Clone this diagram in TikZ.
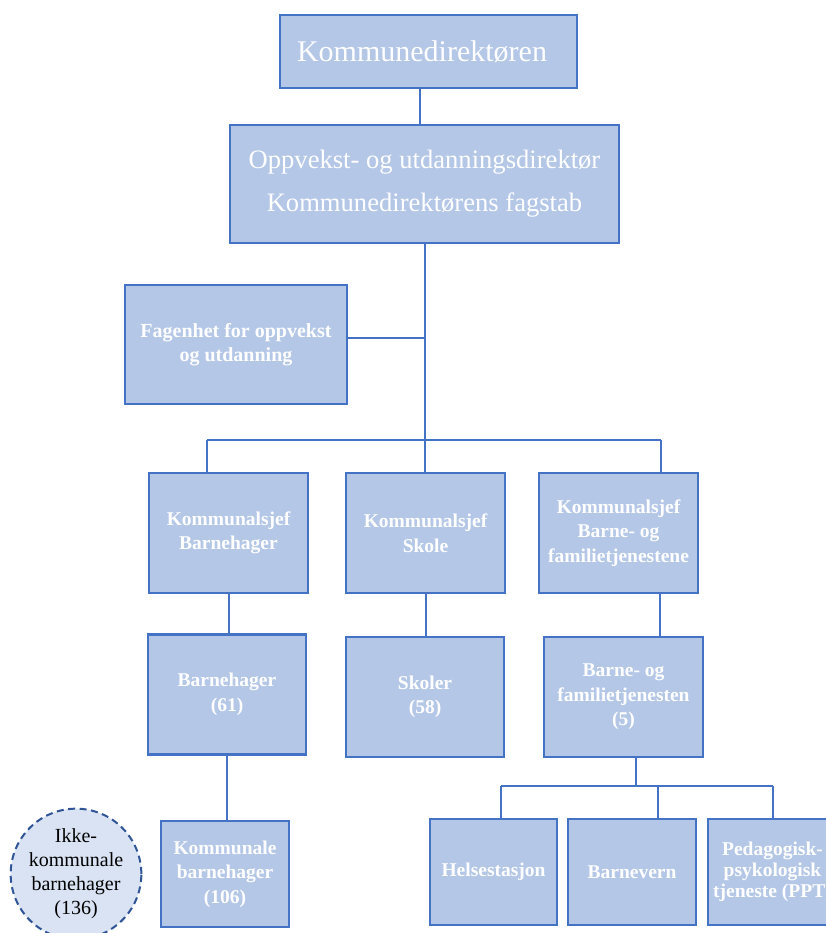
\documentclass[tikz,border=0pt]{standalone}
\usepackage{fontspec}
\setmainfont{Liberation Serif}
\usetikzlibrary{positioning, calc}

\definecolor{boxfill}{HTML}{B4C7E7}
\definecolor{boxline}{HTML}{4472C4}
\definecolor{ringfill}{HTML}{DAE3F3}
\definecolor{ringline}{HTML}{2F5597}

\begin{document}
\begin{tikzpicture}[
            x=1pt, y=-1pt,
            unit/.style={draw=boxline, fill=boxfill, line width=2.2pt, inner sep=0pt,
                text=white, align=center, font=\bfseries\fontsize{19.5}{24.5}\selectfont},
            link/.style={draw=boxline, line width=2pt},
            other/.style={draw=ringline, fill=ringfill, dash pattern=on 7pt off 4.5pt,
                line width=2pt, circle, inner sep=0pt, minimum size=128pt, align=center,
                font=\fontsize{20}{24}\selectfont}
        ]
            \useasboundingbox (0,0) rectangle (826,933);
            \clip (0,0) rectangle (826,933);
            % Management
            \node[unit, minimum width=297pt, minimum height=73pt,
                font=\fontsize{30}{32}\selectfont] (top) at (428.5,51.5)
                {Kommunedirektøren\hspace*{13pt}};
            \node[unit, minimum width=389pt, minimum height=118pt,
                font=\fontsize{26.6}{43}\selectfont] (dir) at (424.5,184)
                {Oppvekst- og utdanningsdirektør\\Kommunedirektørens fagstab};
            \node[unit, minimum width=222pt, minimum height=119pt,
                font=\bfseries\fontsize{20}{24}\selectfont] (fag) at (236,344.5)
                {Fagenhet for oppvekst\\og utdanning};
            % Kommunalsjefer
            \node[unit, minimum width=159pt, minimum height=120pt] (ksB) at (228.5,533)
                {Kommunalsjef\\Barnehager};
            \node[unit, minimum width=159pt, minimum height=120pt] (ksS) at (425.5,533)
                {Kommunalsjef\\Skole};
            \node[unit, minimum width=159pt, minimum height=120pt] (ksF) at (618.5,533)
                {Kommunalsjef\\Barne- og\\familietjenestene};
            % Units
            \node[unit, minimum width=158pt, minimum height=120pt] (bh) at (227,694.5)
                {Barnehager\\(61)};
            \node[unit, minimum width=158pt, minimum height=120pt] (sk) at (425,697)
                {Skoler\\(58)};
            \node[unit, minimum width=159pt, minimum height=120pt] (bft) at (623.5,697)
                {Barne- og\\familietjenesten\\(5)};
            % Bottom row
            \node[unit, minimum width=128pt, minimum height=106pt] (kb) at (225,874)
                {Kommunale\\barnehager\\(106)};
            \node[unit, minimum width=127pt, minimum height=106pt] (hs) at (493.5,872)
                {Helsestasjon};
            \node[unit, minimum width=128pt, minimum height=106pt] (bv) at (632,872)
                {Barnevern};
            \node[unit, minimum width=129pt, minimum height=106pt,
                font=\bfseries\fontsize{19.5}{21}\selectfont] (ppt) at (772.5,872)
                {Pedagogisk-\\psykologisk\\tjeneste (PPT)};
            \node[other] (ikke) at (76,874) {Ikke-\\kommunale\\barnehager\\(136)};
            % Bus points
            \coordinate (c1) at (420,0);
            \coordinate (busA) at (424.5,440);
            \coordinate (busL) at (207,440);
            \coordinate (busR) at (661,440);
            \coordinate (c2) at (660,0);
            \coordinate (busB) at (636,786);
            \coordinate (busBL) at (501,786);
            \coordinate (busBM) at (658,786);
            \coordinate (busBR) at (773,786);
            % Connectors
            \draw[link] (top.south -| c1) -- (dir.north -| c1);
            \draw[link] (dir.south) -- (busA);
            \draw[link] ([yshift=6.5pt]fag.east) -- ([yshift=6.5pt]fag.east -| dir.south);
            \draw[link] (busL) -- (busR);
            \draw[link] (busL) -- (busL |- ksB.north);
            \draw[link] (busA) -- (busA |- ksS.north);
            \draw[link] (busR) -- (busR |- ksF.north);
            \draw[link] (ksB.south) -- (ksB.south |- bh.north);
            \draw[link] (ksS.south) -- (ksS.south |- sk.north);
            \draw[link] (ksF.south -| c2) -- (bft.north -| c2);
            \draw[link] (bh.south) -- (bh.south |- kb.north);
            \draw[link] (bft.south -| busB) -- (busB);
            \draw[link] (busBL) -- (busBR);
            \draw[link] (busBL) -- (busBL |- hs.north);
            \draw[link] (busBM) -- (busBM |- bv.north);
            \draw[link] (busBR) -- (busBR |- ppt.north);
        \end{tikzpicture}
\end{document}
